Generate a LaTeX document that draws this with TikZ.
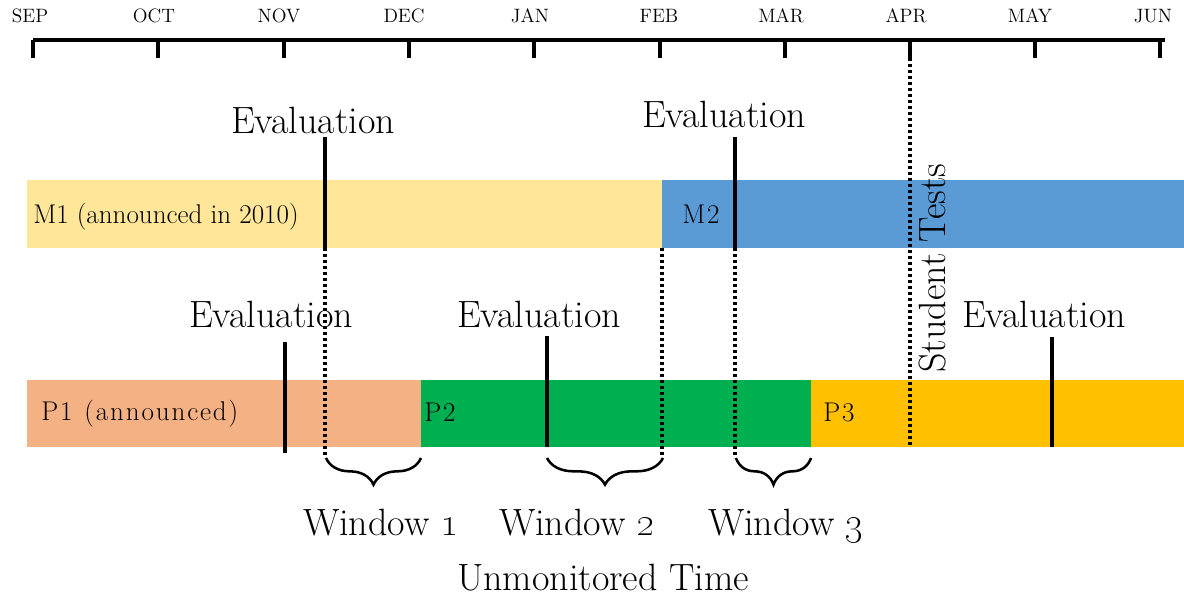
\documentclass[tikz,border=0pt]{standalone}
\usetikzlibrary{decorations.pathreplacing}
\definecolor{mone}{HTML}{FFE699}
\definecolor{mtwo}{HTML}{5B9BD5}
\definecolor{pone}{HTML}{F4B183}
\definecolor{ptwo}{HTML}{00B050}
\definecolor{pthree}{HTML}{FFC000}
\def\ls#1{\lsA#1\relax}
\def\lsA#1{\ifx#1\relax\else#1\kern1.4pt\expandafter\lsA\fi}
\begin{document}
\begin{tikzpicture}[x=0.75pt,y=-0.75pt,
  axisline/.style={line width=2.3pt},
  evalline/.style={line width=2.4pt},
  dotline/.style={line width=2.3pt, dash pattern=on 2.2pt off 2.3pt},
  month/.style={font=\fontsize{14.5}{16}\selectfont, anchor=base, inner sep=0pt},
  big/.style={font=\fontsize{28.5}{32}\selectfont, anchor=base, inner sep=0pt},
  barlabel/.style={font=\fontsize{20.3}{24}\selectfont, anchor=base west, inner sep=0pt},
  wbrace/.style={decorate, decoration={brace, mirror, amplitude=20pt, aspect=0.5}, line width=1.9pt}
]
\useasboundingbox (0,0) rectangle (1184,599);

% bars
\fill[mone] (27,180) rectangle (662,248);
\fill[mtwo] (662,180) rectangle (1184,248);
\fill[pone] (27,380) rectangle (421,447);
\fill[ptwo] (421,380) rectangle (811,447);
\fill[pthree] (811,380) rectangle (1184,447);

\node[barlabel] (m1) at (33,223) {M1 (announced in 2010)};
\node[barlabel] (m2) at (682,223) {\ls{M2}};
\node[barlabel] (p1) at (41,420) {\ls{P1~(announced)}};
\node[barlabel] (p2) at (424,421) {\ls{P2}};
\node[barlabel] (p3) at (823,421) {\ls{P3}};

% axis
\coordinate (ax0) at (33,40);
\coordinate (ax1) at (1165,40);
\draw[axisline] (ax0) -- (ax1);
\foreach \x/\m/\lx in {33/SEP/30,158/OCT/154,284/NOV/279,409/DEC/404,534/JAN/530,660/FEB/659,785/MAR/781,910/APR/906,1035/MAY/1030,1160/JUN/1153}{
  \coordinate (t\m) at (\x,40);
  \coordinate (b\m) at (\x,58);
  \draw[axisline] (t\m) -- (b\m);
  \node[month] (l\m) at (\lx,23) {\m};
}

% student tests
\coordinate (st0) at (910,58);
\coordinate (st1) at (910,447);
\draw[dotline] (st0) -- (st1);
\node[font=\fontsize{28.5}{32}\selectfont, rotate=90, inner sep=0pt] (st) at (933,268) {Student Tests};

% evaluations on M row
\node[big] (ev1) at (313,134) {Evaluation};
\coordinate (e1a) at (325,137); \coordinate (e1b) at (325,248); \coordinate (e1c) at (325,458);
\draw[evalline] (e1a) -- (e1b);
\draw[dotline] (e1b) -- (e1c);

\node[big] (ev2) at (724,128) {Evaluation};
\coordinate (e2a) at (735,137); \coordinate (e2b) at (735,248); \coordinate (e2c) at (735,458);
\draw[evalline] (e2a) -- (e2b);
\draw[dotline] (e2b) -- (e2c);

\coordinate (fa) at (662,248); \coordinate (fb) at (662,458);
\draw[dotline] (fa) -- (fb);

% evaluations on P row
\node[big] (ev3) at (271,327) {Evaluation};
\coordinate (e3a) at (285,342); \coordinate (e3b) at (285,453);
\draw[evalline] (e3a) -- (e3b);

\node[big] (ev4) at (539,327) {Evaluation};
\coordinate (e4a) at (547,336); \coordinate (e4b) at (547,447);
\draw[evalline] (e4a) -- (e4b);

\node[big] (ev5) at (1044,327) {Evaluation};
\coordinate (e5a) at (1052,337); \coordinate (e5b) at (1052,447);
\draw[evalline] (e5a) -- (e5b);

% braces
\coordinate (w1a) at (326,458); \coordinate (w1b) at (421,458);
\coordinate (w2a) at (547,458); \coordinate (w2b) at (663,458);
\coordinate (w3a) at (736,458); \coordinate (w3b) at (811,458);
\draw[wbrace] (w1a) -- (w1b);
\draw[wbrace] (w2a) -- (w2b);
\draw[wbrace] (w3a) -- (w3b);

\node[big] (win1) at (381,535) {Window \oldstylenums{1}};
\node[big] (win2) at (577,535) {Window \oldstylenums{2}};
\node[big] (win3) at (786,535) {Window \oldstylenums{3}};
\node[big] (unm) at (603,590) {Unmonitored Time};
\end{tikzpicture}
\end{document}
